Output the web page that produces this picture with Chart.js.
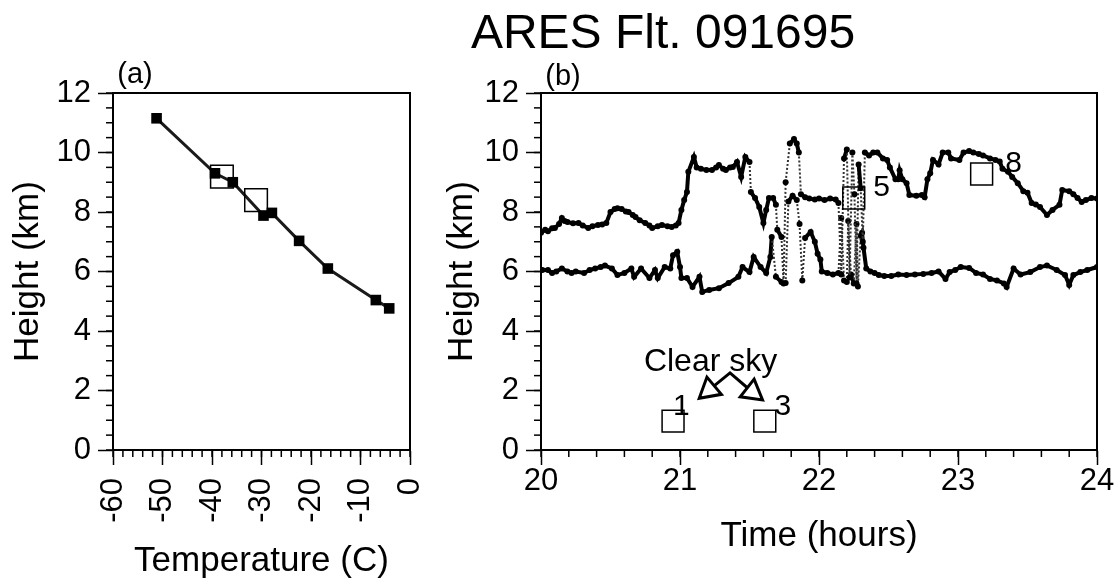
<!DOCTYPE html>
<html>
<head>
<meta charset="utf-8">
<script src="https://cdn.jsdelivr.net/npm/chart.js@4/dist/chart.umd.min.js"></script>
<style>
  html, body { margin: 0; padding: 0; background: #fff; }
  #wrap { position: relative; width: 1118px; height: 580px; overflow: hidden;
          font-family: "Liberation Sans", Arial, sans-serif; color: #000; }
  canvas { position: absolute; top: 0; }
  #tempChart { left: 0; }
  #timeChart { left: 440px; }
  .txt { position: absolute; line-height: 1; white-space: nowrap; transform: translate(-50%, -50%); }
</style>
</head>
<body>
<div id="wrap">
  <canvas id="tempChart" width="440" height="580"></canvas>
  <canvas id="timeChart" width="678" height="580"></canvas>
  <div class="txt" style="left:663px; top:32px; font-size:48px;">ARES Flt. 091695</div>
  <div class="txt" style="left:135px; top:73px; font-size:29px;">(a)</div>
  <div class="txt" style="left:563px; top:75px; font-size:29px;">(b)</div>
</div>
<script>
// panel (a): temperature profile
const profileTemp = [-51.2, -39.4, -35.8, -29.6, -27.9, -22.4, -16.6, -6.9, -4.2];
const profileHeight = [11.15, 9.3, 9.0, 7.88, 7.97, 7.03, 6.1, 5.04, 4.76];
const sampleTemp = [-38.0, -31.1];
const sampleHeight = [9.19, 8.4];
const tempTicks = [-60, -50, -40, -30, -20, -10, 0];

// panel (b): cloud top / cloud base vs time
const topTime = [20.00, 20.03, 20.05, 20.08, 20.10, 20.13, 20.15, 20.17, 20.19, 20.23,
  20.27, 20.30, 20.34, 20.37, 20.41, 20.44, 20.47, 20.50, 20.53, 20.55,
  20.58, 20.61, 20.63, 20.66, 20.68, 20.71, 20.75, 20.78, 20.80, 20.84,
  20.87, 20.91, 20.94, 20.97, 20.99, 21.01, 21.03, 21.05, 21.06, 21.10,
  21.12, 21.15, 21.19, 21.23, 21.26, 21.28, 21.31, 21.33, 21.36, 21.38,
  21.41, 21.44, 21.47, 21.50, 21.51, 21.54, 21.57, 21.60, 21.62, 21.64,
  21.67, 21.69, 21.70, 21.73, 21.745, 21.76, 21.79, 21.82, 21.84, 21.855,
  21.87, 21.90, 21.93, 21.97, 22.00, 22.04, 22.08, 22.12, 22.14, 22.16,
  22.18, 22.20, 22.22, 22.24, 22.255, 22.27, 22.285, 22.30, 22.315, 22.33,
  22.36, 22.39, 22.42, 22.46, 22.49, 22.51, 22.55, 22.57, 22.58, 22.60,
  22.63, 22.65, 22.70, 22.74, 22.76, 22.78, 22.80, 22.82, 22.86, 22.89,
  22.93, 22.95, 23.01, 23.04, 23.08, 23.11, 23.15, 23.18, 23.23, 23.27,
  23.30, 23.32, 23.36, 23.39, 23.43, 23.47, 23.50, 23.53, 23.56, 23.59,
  23.64, 23.68, 23.73, 23.75, 23.80, 23.83, 23.86, 23.89, 23.92, 23.96, 24.00];
const topHeight = [7.30, 7.40, 7.35, 7.45, 7.46, 7.60, 7.80, 7.70, 7.66, 7.62,
  7.63, 7.55, 7.46, 7.52, 7.56, 7.58, 7.63, 8.00, 8.10, 8.13,
  8.10, 8.02, 8.00, 7.90, 7.83, 7.72, 7.63, 7.55, 7.46, 7.52,
  7.56, 7.52, 7.50, 7.55, 7.63, 8.07, 8.40, 8.67, 9.35, 9.85,
  9.50, 9.45, 9.41, 9.41, 9.50, 9.58, 9.45, 9.41, 9.50, 9.51,
  9.68, 9.18, 9.85, 9.68, 8.67, 8.47, 8.17, 7.63, 8.07, 8.47,
  8.47, 8.24, 7.40, 7.16, 5.60, 9.00, 10.30, 10.45, 10.30, 10.00,
  8.60, 8.50, 8.45, 8.42, 8.45, 8.40, 8.45, 8.42, 8.30, 5.90,
  9.80, 10.10, 5.80, 10.00, 8.60, 5.60, 9.60, 8.80, 7.00, 10.00,
  9.90, 10.00, 10.00, 9.80, 9.75, 9.50, 9.10, 9.10, 9.40, 9.10,
  8.97, 8.57, 8.55, 8.57, 8.50, 9.10, 9.30, 9.75, 9.60, 10.00,
  10.00, 9.80, 9.75, 10.00, 10.05, 10.00, 9.95, 9.90, 9.80, 9.75,
  9.70, 9.45, 9.35, 9.18, 8.97, 8.70, 8.65, 8.30, 8.25, 8.17,
  7.90, 8.07, 8.24, 8.74, 8.70, 8.60, 8.47, 8.34, 8.40, 8.47, 8.45];

const baseTime = [20.01, 20.05, 20.08, 20.11, 20.15, 20.19, 20.22, 20.25, 20.31, 20.35,
  20.39, 20.43, 20.46, 20.51, 20.55, 20.60, 20.65, 20.67, 20.72, 20.78,
  20.82, 20.84, 20.89, 20.93, 20.95, 20.98, 21.00, 21.01, 21.05, 21.09,
  21.14, 21.16, 21.21, 21.28, 21.35, 21.42, 21.45, 21.50, 21.53, 21.58,
  21.62, 21.65, 21.66, 21.69, 21.73, 21.76, 21.78, 21.81, 21.84, 21.86,
  21.88, 21.90, 21.94, 21.97, 21.99, 22.01, 22.02, 22.06, 22.10, 22.14,
  22.16, 22.18, 22.20, 22.21, 22.23, 22.25, 22.27, 22.28, 22.30, 22.31,
  22.32, 22.34, 22.37, 22.40, 22.43, 22.47, 22.52, 22.57, 22.63, 22.69,
  22.75, 22.81, 22.86, 22.91, 22.94, 22.98, 23.02, 23.08, 23.13, 23.18,
  23.23, 23.28, 23.33, 23.35, 23.40, 23.45, 23.52, 23.59, 23.64, 23.71,
  23.77, 23.80, 23.83, 23.88, 23.93, 24.00];
const baseHeight = [6.05, 6.05, 5.95, 6.00, 6.10, 6.00, 5.95, 6.00, 5.95, 6.05,
  6.10, 6.15, 6.20, 6.10, 5.88, 5.95, 6.10, 5.82, 6.10, 5.78,
  6.05, 5.78, 6.15, 6.10, 6.55, 6.66, 6.15, 5.78, 5.78, 5.48,
  5.82, 5.31, 5.38, 5.44, 5.61, 5.82, 6.15, 5.98, 6.49, 6.15,
  5.95, 6.49, 7.16, 5.82, 5.65, 5.61, 8.35, 8.55, 8.40, 7.60,
  5.70, 7.13, 7.33, 7.00, 6.60, 6.40, 6.00, 5.95, 5.90, 5.95,
  7.80, 5.70, 5.65, 7.70, 5.90, 5.60, 7.60, 5.50, 7.20, 7.30,
  6.80, 6.10, 6.00, 5.95, 5.88, 5.85, 5.85, 5.90, 5.88, 5.90,
  5.92, 5.95, 6.00, 5.75, 5.98, 6.05, 6.15, 6.12, 5.95, 5.90,
  5.75, 5.70, 5.60, 5.48, 6.10, 5.90, 5.98, 6.15, 6.20, 6.05,
  5.88, 5.55, 5.88, 5.98, 6.05, 6.15];

// numbered sample boxes
const boxTime = [20.95, 21.61, 22.25, 23.17];
const boxHeight = [0.97, 0.97, 8.47, 9.28];

// "clear sky" arrows
const skyTime = [21.21, 21.36, 21.52];
const skyHeight = [2.02, 2.59, 1.95];

// text notes inside panel (b)
const noteText = ["Clear sky", "1", "3", "5", "8"];
const noteTime = [21.22, 21.01, 21.74, 22.45, 23.40];
const noteHeight = [2.96, 1.45, 1.45, 8.8, 9.61];

const FONT = '"Liberation Sans", Arial, sans-serif';
Chart.defaults.font.family = FONT;
Chart.defaults.color = "#000";

const tickFont = { size: 31, lineHeight: 1 };
const titleFont = { size: 35, lineHeight: 1 };

const pts = (xs, ys) => xs.map((x, i) => ({ x: x, y: ys[i] }));

// box round the plot area plus the short minor ticks
const framePlugin = {
  id: "frame",
  afterDraw(chart, args, opts) {
    const { ctx, chartArea: a, scales } = chart;
    ctx.save();
    ctx.strokeStyle = "#000";
    ctx.lineWidth = 2;
    ctx.strokeRect(a.left, a.top, a.right - a.left, a.bottom - a.top);
    ctx.lineWidth = 1.5;
    const xs = scales.x, ys = scales.y;
    const nx = Math.round((xs.max - xs.min) / opts.xMinor);
    for (let i = 0; i <= nx; i++) {
      const px = xs.getPixelForValue(xs.min + i * opts.xMinor);
      ctx.beginPath();
      ctx.moveTo(px, a.bottom);
      ctx.lineTo(px, a.bottom + 7);
      ctx.stroke();
    }
    const ny = Math.round((ys.max - ys.min) / opts.yMinor);
    for (let i = 0; i <= ny; i++) {
      const py = ys.getPixelForValue(ys.min + i * opts.yMinor);
      ctx.beginPath();
      ctx.moveTo(a.left, py);
      ctx.lineTo(a.left - 7, py);
      ctx.stroke();
    }
    ctx.restore();
  },
};

// upright temperature labels, reading bottom to top, ending below the ticks
const tempLabelPlugin = {
  id: "tempLabels",
  afterDraw(chart) {
    const { ctx, chartArea: a, scales } = chart;
    ctx.save();
    ctx.fillStyle = "#000";
    ctx.font = "31px " + FONT;
    ctx.textAlign = "right";
    ctx.textBaseline = "middle";
    tempTicks.forEach((v) => {
      ctx.save();
      ctx.translate(scales.x.getPixelForValue(v), a.bottom + 28);
      ctx.rotate(-Math.PI / 2);
      ctx.fillText(String(v), 0, 0);
      ctx.restore();
    });
    ctx.restore();
  },
};

const notesPlugin = {
  id: "notes",
  afterDatasetsDraw(chart) {
    const { ctx, scales } = chart;
    ctx.save();
    ctx.fillStyle = "#000";
    ctx.textAlign = "center";
    ctx.textBaseline = "middle";
    noteText.forEach((t, i) => {
      ctx.font = (i === 0 ? 32 : 30) + "px " + FONT;
      ctx.fillText(t, scales.x.getPixelForValue(noteTime[i]), scales.y.getPixelForValue(noteHeight[i]));
    });
    ctx.restore();
  },
};

function axis(min, max, step, title, isX, size) {
  return {
    type: "linear",
    min: min,
    max: max,
    ticks: { stepSize: step, font: tickFont, color: "#000", padding: 7 },
    grid: { drawOnChartArea: false, tickLength: 15, tickColor: "#000", tickWidth: 1.5 },
    border: { display: true, color: "#000", width: 2 },
    title: { display: true, text: title, color: "#000", font: titleFont },
    afterFit: (s) => {
      if (isX) s.height = size;
      else s.width = size;
    },
  };
}

new Chart(document.getElementById("tempChart"), {
  type: "scatter",
  data: {
    datasets: [
      {
        data: pts(sampleTemp, sampleHeight),
        pointStyle: "rect",
        pointRadius: 16,
        pointBorderWidth: 1.5,
        pointBorderColor: "#000",
        pointBackgroundColor: "rgba(0,0,0,0)",
        showLine: false,
      },
      {
        data: pts(profileTemp, profileHeight),
        showLine: true,
        borderColor: "#1a1a1a",
        borderWidth: 3,
        pointStyle: "rect",
        pointRadius: 7.5,
        pointBorderWidth: 0,
        pointBackgroundColor: "#000",
      },
    ],
  },
  options: {
    responsive: false,
    animation: false,
    layout: { padding: { top: 93, right: 30, left: 0, bottom: 0 } },
    plugins: { legend: { display: false }, tooltip: { enabled: false },
      frame: { xMinor: 2, yMinor: 0.5 } },
    scales: {
      x: (() => {
        const a = axis(-60, 0, 10, "Temperature (C)", true, 130);
        a.ticks.display = false;
        a.title.padding = { top: 0, bottom: 1.5 };
        return a;
      })(),
      y: (() => {
        const a = axis(0, 12, 2, "Height (km)", false, 113);
        a.title.padding = { top: 10.5, bottom: 0 };
        return a;
      })(),
    },
  },
  plugins: [framePlugin, tempLabelPlugin],
});

const JUMP = 0.8;
const isJump = (c) => Math.abs(c.p1.parsed.y - c.p0.parsed.y) > JUMP;
const traceStyle = {
  showLine: true,
  borderColor: "#000",
  borderWidth: 4,
  pointRadius: 3,
  pointBorderWidth: 0,
  pointBackgroundColor: "#000",
  segment: {
    borderWidth: (c) => (isJump(c) ? 2 : 4),
    borderDash: (c) => (isJump(c) ? [2, 2] : []),
    borderColor: (c) => (isJump(c) ? "#333" : "#000"),
  },
};

new Chart(document.getElementById("timeChart"), {
  type: "scatter",
  data: {
    datasets: [
      {
        data: pts(boxTime, boxHeight),
        pointStyle: "rect",
        pointRadius: 15.5,
        pointBorderWidth: 1.5,
        pointBorderColor: "#000",
        pointBackgroundColor: "rgba(0,0,0,0)",
        showLine: false,
      },
      {
        data: pts(skyTime, skyHeight),
        showLine: true,
        borderColor: "#000",
        borderWidth: 3,
        pointStyle: "triangle",
        pointRadius: [13, 0, 13],
        pointRotation: [-10, 0, 8],
        pointBorderWidth: 3,
        pointBorderColor: "#000",
        pointBackgroundColor: "#fff",
      },
      Object.assign({ data: pts(topTime, topHeight) }, traceStyle),
      Object.assign({ data: pts(baseTime, baseHeight) }, traceStyle),
    ],
  },
  options: {
    responsive: false,
    animation: false,
    layout: { padding: { top: 93, right: 21, left: 0, bottom: 0 } },
    plugins: { legend: { display: false }, tooltip: { enabled: false },
      frame: { xMinor: 0.2, yMinor: 0.5 } },
    scales: {
      x: (() => {
        const a = axis(20, 24, 1, "Time (hours)", true, 130);
        a.ticks.maxRotation = 0;
        a.ticks.padding = 1;
        a.title.padding = { top: 0, bottom: 26 };
        return a;
      })(),
      y: (() => {
        const a = axis(0, 12, 2, "Height (km)", false, 101);
        a.title.padding = { top: 4.5, bottom: 0 };
        return a;
      })(),
    },
  },
  plugins: [framePlugin, notesPlugin],
});
</script>
</body>
</html>
